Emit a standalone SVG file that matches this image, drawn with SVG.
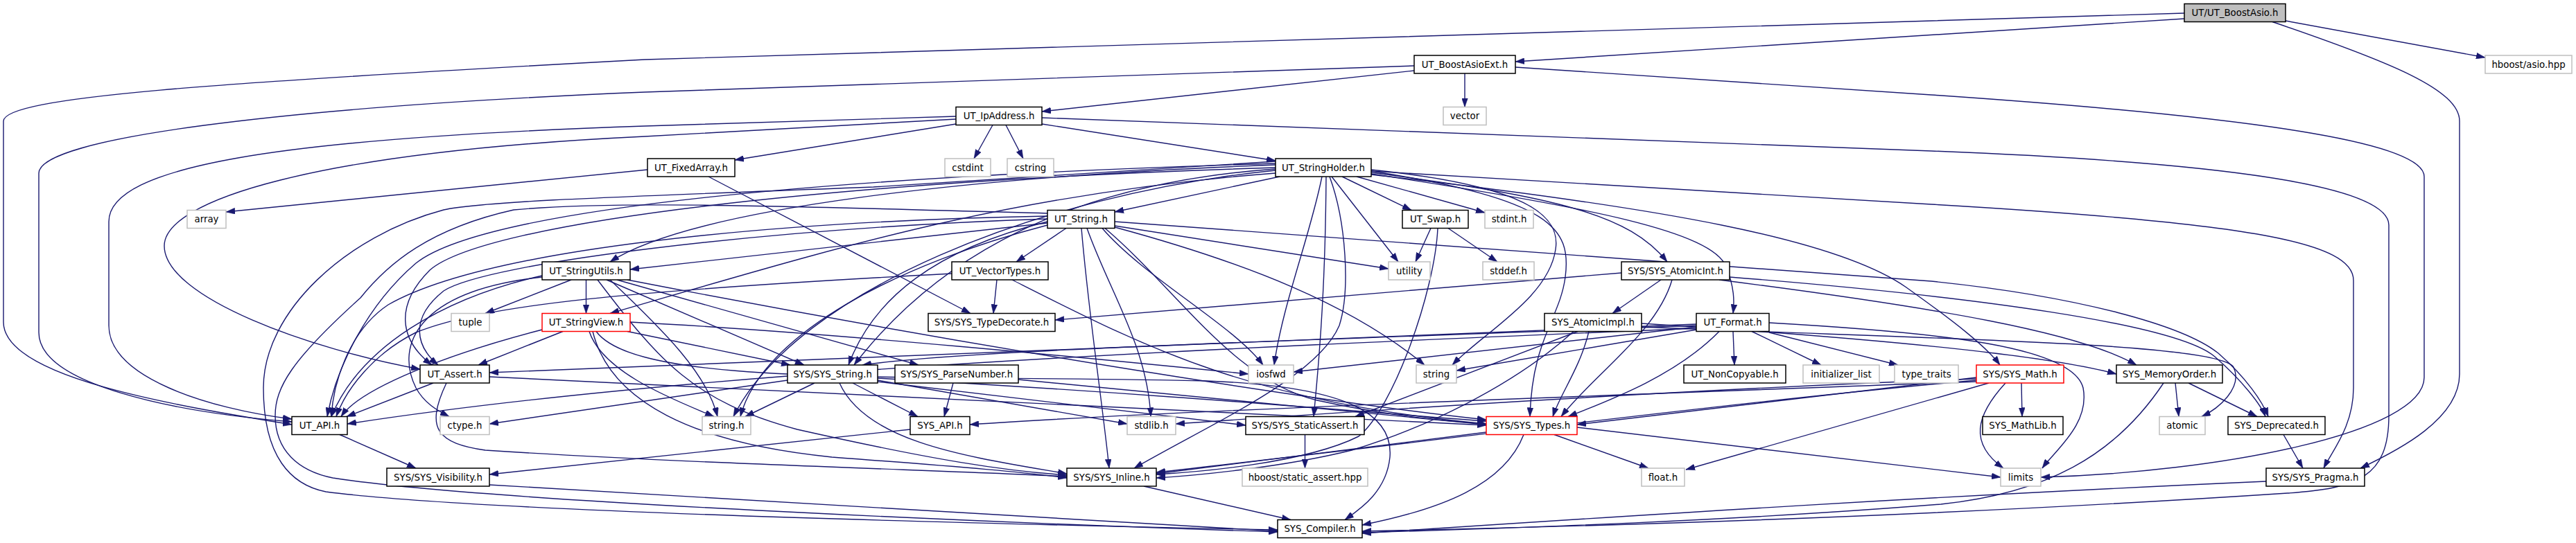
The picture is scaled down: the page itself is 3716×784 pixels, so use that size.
<svg xmlns="http://www.w3.org/2000/svg" width="3716" height="784" viewBox="0 0 3716 784">
<style>
.n rect{fill:#fff;stroke:#000;stroke-width:1.5}
.g rect{fill:#fff;stroke:#bfbfbf;stroke-width:1.5}
.r rect{fill:#fff;stroke:#ff0000;stroke-width:1.5}
.root rect{fill:#bfbfbf;stroke:#000;stroke-width:1.5}
text{font-family:"DejaVu Sans","Liberation Sans",sans-serif;font-size:13.33px;fill:#000;text-anchor:middle;dominant-baseline:central}
#edges path{fill:none;stroke:#191970;stroke-width:1.4;marker-end:url(#ah)}
</style>
<defs>
<marker id="ah" viewBox="0 0 13 9" refX="13" refY="4.5" markerWidth="13" markerHeight="9" markerUnits="userSpaceOnUse" orient="auto">
<path d="M0,0 L13,4.5 L0,9 z" fill="#191970" stroke="#191970" stroke-width="0.5"/>
</marker>
</defs>
<rect x="0" y="0" width="3716" height="784" fill="#fff"/>
<g id="edges">
<path d="M3151,27 L2186,89"/>
<path d="M3297,30 L3585,83"/>
<path d="M3151,19 L930,86 C300,120 5,140 5,175 L5,465 C5,545 250,585 421,613"/>
<path d="M3278,31.5 C3450,90 3548,130 3548,175 L3548,540 C3548,605 3460,650 3405,676"/>
<path d="M2113,106 L2113,154.5"/>
<path d="M2040,102 L1503,161"/>
<path d="M2040,95 L930,133 C400,155 56,200 56,250 L56,480 C56,555 250,595 421,609"/>
<path d="M2186,97 L2786,137 C3300,172 3497,210 3497,255 L3497,545 C3497,625 3200,682 2944,689"/>
<path d="M1379,179 L1060,231"/>
<path d="M1432,180.5 L1405,229"/>
<path d="M1451,180.5 L1476,229"/>
<path d="M1503,179 L1840,232"/>
<path d="M1503,170 L2786,218 C3300,238 3446,280 3446,325 L3446,600 C3446,690 3400,705 3300,712 C2800,745 2300,760 1965,767"/>
<path d="M1379,168 L930,182 C400,200 157,240 157,320 L157,470 C157,545 300,590 421,605"/>
<path d="M1379,172 L930,197 C450,220 237,290 237,355 C237,430 450,505 606,533"/>
<path d="M934,245 L326,306"/>
<path d="M1022,255 L1400,452.5"/>
<path d="M1846,255 L1608,306"/>
<path d="M1936,255 L2036,303.5"/>
<path d="M1957,255 L2142,307"/>
<path d="M1921,255 L2017,378"/>
<path d="M1907,255 C1890,340 1850,440 1838,527"/>
<path d="M1913,255 C1912,400 1905,500 1895,601.5"/>
<path d="M1918,255 C1942,320 1948,420 1932,470 C1900,545 1750,610 1636,676"/>
<path d="M1978,245 C2200,268 2252,310 2244,360 C2234,430 2140,480 2095,527"/>
<path d="M1978,247 C2240,288 2267,330 2258,400 C2250,460 2210,490 2207,601.5"/>
<path d="M1978,249 C2250,285 2350,310 2405,378"/>
<path d="M1978,251 C2300,300 2470,335 2490,385 C2502,415 2502,435 2500,452.5"/>
<path d="M1978,252 C2400,300 2650,345 2750,415 C2820,465 2865,500 2885,527"/>
<path d="M1978,247 L2786,295 C3250,322 3395,350 3395,405 L3395,560 C3395,615 3365,650 3352,676"/>
<path d="M1840,238 C1400,255 1000,300 880,378"/>
<path d="M1840,250 C1450,280 1200,360 880,452.5"/>
<path d="M1840,236 C1200,255 700,300 600,380 C530,440 485,530 472,601.5"/>
<path d="M1840,242 C1200,262 700,320 620,390 C570,440 575,490 623,527"/>
<path d="M1840,244 C1500,268 1330,400 1232,527"/>
<path d="M1840,246 C1500,280 1150,420 1058,601.5"/>
<path d="M1840,233 L1260,270 C900,284 700,290 640,303 C500,340 380,450 380,560 C380,660 420,700 470,710 C700,740 1500,758 1843,765"/>
<path d="M1511,322 L909,389"/>
<path d="M1538,329.5 L1466,378"/>
<path d="M1608,320 L2786,406 C3000,428 3150,470 3200,510 C3240,545 3264,580 3272,601.5"/>
<path d="M1608,326 L2003,388"/>
<path d="M1608,328 C1800,380 1950,440 2055,527"/>
<path d="M1590,329.5 C1650,400 1780,470 1822,527"/>
<path d="M1568,329.5 C1600,420 1655,500 1660,601.5"/>
<path d="M1560,329.5 C1570,450 1590,580 1600,676"/>
<path d="M1594,329.5 C1700,420 1780,550 1900,578 C2000,600 2080,608 2144,612"/>
<path d="M1511,308 C1200,300 900,288 741,303 C620,330 560,380 520,430 C420,520 397,560 397,600 C397,650 430,680 480,690 C700,725 1500,757 1843,768"/>
<path d="M1511,312 C1100,320 700,360 560,440 C500,480 480,560 478,601.5"/>
<path d="M1511,316 C1100,330 700,380 640,420 C590,460 600,500 632,527"/>
<path d="M1511,320 C1350,360 1260,430 1224,527"/>
<path d="M1511,325 C1300,380 1100,480 1068,601.5"/>
<path d="M2064,329.5 L2042,378"/>
<path d="M2089,329.5 L2160,378"/>
<path d="M2074,329.5 C2070,420 2010,590 1960,630 C1880,670 1720,682 1668,685"/>
<path d="M2396,404 L2326,452.5"/>
<path d="M2412,404 C2390,480 2300,540 2252,601.5"/>
<path d="M2339,394 L1522,462"/>
<path d="M2480,404 C2800,445 3000,480 3082,527"/>
<path d="M2495,400 C2850,428 3140,468 3195,515 C3235,550 3262,585 3268,601.5"/>
<path d="M2276,478.5 L1955,601.5"/>
<path d="M2270,478.5 C2180,560 2050,620 1950,650 C1850,675 1720,687 1668,690"/>
<path d="M2292,478.5 C2280,530 2250,570 2240,601.5"/>
<path d="M2368,467 C2700,488 2950,512 3053,540"/>
<path d="M2368,472 C2800,490 3200,495 3222,530 C3236,560 3200,590 3176,601.5"/>
<path d="M2500,478.5 L2502,527"/>
<path d="M2527,478.5 L2627,527"/>
<path d="M2552,480 L2738,527"/>
<path d="M2552,466 C2800,480 2990,500 3005,560 C3015,612 2965,650 2946,676"/>
<path d="M2480,478.5 C2420,540 2330,575 2262,601.5"/>
<path d="M2447,476 L2101,535"/>
<path d="M2447,472 L1866,537"/>
<path d="M2447,468 L706,538"/>
<path d="M2447,474 C1700,505 1000,535 501,612"/>
<path d="M2447,470 C1800,495 1400,505 1244,527"/>
<path d="M2916,553 L2917,601.5"/>
<path d="M2893,553 C2850,600 2840,640 2890,676"/>
<path d="M2869,553 L2432,678"/>
<path d="M2851,545 L2275,613"/>
<path d="M2851,549 C2500,580 2000,645 1668,682"/>
<path d="M2851,551 C2400,568 1700,592 1399,613"/>
<path d="M2851,547 C2400,563 1900,598 1696,612"/>
<path d="M3138,553 L3143,601.5"/>
<path d="M3157,553 L3256,601.5"/>
<path d="M3121,553 C3050,660 2950,712 2800,728 C2500,752 2200,762 1965,769"/>
<path d="M3294,627.5 L3322,676"/>
<path d="M3269,695 C2700,720 2200,755 1965,770"/>
<path d="M2144,624 L1668,684"/>
<path d="M2198,627.5 C2170,700 2080,735 1965,758"/>
<path d="M2242,627.5 L2378,676"/>
<path d="M2275,617 L2886,689"/>
<path d="M1882.5,627.5 L1882.5,676"/>
<path d="M1650,702 L1862,750.5"/>
<path d="M706,700 C1200,728 1600,755 1843,767"/>
<path d="M490,627.5 L600,676"/>
<path d="M1313,620 L706,685"/>
<path d="M1375,553 L1362,601.5"/>
<path d="M1469,548 L2144,613"/>
<path d="M625,553 L500,601.5"/>
<path d="M706,544 L2144,614"/>
<path d="M644,553 C612,620 632,640 700,650 C1000,670 1400,680 1539,688"/>
<path d="M1175,553 L1075,601.5"/>
<path d="M1230,553 L1324,601.5"/>
<path d="M1211,553 C1250,640 1400,660 1539,684"/>
<path d="M1266,546 C1700,570 2000,598 2144,608"/>
<path d="M1266,549 L1626,612"/>
<path d="M1136,549 L706,612"/>
<path d="M1266,551 L1797,614"/>
<path d="M824,404 L700,452.5"/>
<path d="M845.5,404 L845.5,452.5"/>
<path d="M875,404 L1160,527"/>
<path d="M890,404 L1325,527"/>
<path d="M905,404 C1400,500 1900,580 2144,606"/>
<path d="M862,404 C950,520 1000,580 1150,620 C1350,665 1450,680 1539,686"/>
<path d="M880,404 C960,480 1020,540 1035,601.5"/>
<path d="M782,398 C640,430 520,500 478,601.5"/>
<path d="M782,400 C600,420 570,500 600,560 C612,582 630,592 648,601.5"/>
<path d="M812,478.5 L690,527"/>
<path d="M782,476 C650,510 520,560 492,601.5"/>
<path d="M909,465 C1200,480 1600,520 1801,540"/>
<path d="M905,478.5 L1140,527"/>
<path d="M850,478.5 C870,540 980,580 1030,601.5"/>
<path d="M855,478.5 C880,580 1000,640 1200,660 C1400,675 1480,682 1539,690"/>
<path d="M860,478.5 C920,560 1300,540 1741,550 C1950,558 2010,600 2005,660 C2000,710 1962,735 1940,750.5"/>
<path d="M1438,404 L1433,452.5"/>
<path d="M1460,404 C1650,500 1800,580 2144,612"/>
<path d="M1373,395 C900,420 700,440 600,480 C540,510 500,560 485,601.5"/>
</g>
<g id="n_UT_BoostAsio" class="root"><rect x="3151" y="5.5" width="146" height="26"/><text x="3224" y="18.5">UT/UT_BoostAsio.h</text></g>
<g id="n_UT_BoostAsioExt" class="n"><rect x="2040" y="80" width="146" height="26"/><text x="2113" y="93">UT_BoostAsioExt.h</text></g>
<g id="n_hboost_asio" class="g"><rect x="3585" y="80" width="125" height="26"/><text x="3647.5" y="93">hboost/asio.hpp</text></g>
<g id="n_UT_IpAddress" class="n"><rect x="1379" y="154.5" width="124" height="26"/><text x="1441" y="167.5">UT_IpAddress.h</text></g>
<g id="n_vector" class="g"><rect x="2082" y="154.5" width="62" height="26"/><text x="2113" y="167.5">vector</text></g>
<g id="n_UT_FixedArray" class="n"><rect x="934" y="229" width="126" height="26"/><text x="997" y="242">UT_FixedArray.h</text></g>
<g id="n_cstdint" class="g"><rect x="1363" y="229" width="66" height="26"/><text x="1396" y="242">cstdint</text></g>
<g id="n_cstring" class="g"><rect x="1453" y="229" width="67" height="26"/><text x="1486.5" y="242">cstring</text></g>
<g id="n_UT_StringHolder" class="n"><rect x="1840" y="229" width="138" height="26"/><text x="1909" y="242">UT_StringHolder.h</text></g>
<g id="n_array" class="g"><rect x="270" y="303.5" width="56" height="26"/><text x="298" y="316.5">array</text></g>
<g id="n_UT_String" class="n"><rect x="1511" y="303.5" width="97" height="26"/><text x="1559.5" y="316.5">UT_String.h</text></g>
<g id="n_UT_Swap" class="n"><rect x="2023" y="303.5" width="95" height="26"/><text x="2070.5" y="316.5">UT_Swap.h</text></g>
<g id="n_stdint" class="g"><rect x="2142" y="303.5" width="70" height="26"/><text x="2177" y="316.5">stdint.h</text></g>
<g id="n_UT_StringUtils" class="n"><rect x="782" y="378" width="127" height="26"/><text x="845.5" y="391">UT_StringUtils.h</text></g>
<g id="n_UT_VectorTypes" class="n"><rect x="1373" y="378" width="139" height="26"/><text x="1442.5" y="391">UT_VectorTypes.h</text></g>
<g id="n_utility" class="g"><rect x="2003" y="378" width="60" height="26"/><text x="2033" y="391">utility</text></g>
<g id="n_stddef" class="g"><rect x="2139" y="378" width="74" height="26"/><text x="2176" y="391">stddef.h</text></g>
<g id="n_SYS_AtomicInt" class="n"><rect x="2339" y="378" width="156" height="26"/><text x="2417" y="391">SYS/SYS_AtomicInt.h</text></g>
<g id="n_tuple" class="g"><rect x="651" y="452.5" width="55" height="26"/><text x="678.5" y="465.5">tuple</text></g>
<g id="n_UT_StringView" class="r"><rect x="782" y="452.5" width="127" height="26"/><text x="845.5" y="465.5">UT_StringView.h</text></g>
<g id="n_SYS_TypeDecorate" class="n"><rect x="1339" y="452.5" width="183" height="26"/><text x="1430.5" y="465.5">SYS/SYS_TypeDecorate.h</text></g>
<g id="n_SYS_AtomicImpl" class="n"><rect x="2228" y="452.5" width="140" height="26"/><text x="2298" y="465.5">SYS_AtomicImpl.h</text></g>
<g id="n_UT_Format" class="n"><rect x="2447" y="452.5" width="105" height="26"/><text x="2499.5" y="465.5">UT_Format.h</text></g>
<g id="n_UT_Assert" class="n"><rect x="606" y="527" width="100" height="26"/><text x="656" y="540">UT_Assert.h</text></g>
<g id="n_SYS_String" class="n"><rect x="1136" y="527" width="130" height="26"/><text x="1201" y="540">SYS/SYS_String.h</text></g>
<g id="n_SYS_ParseNumber" class="n"><rect x="1291" y="527" width="178" height="26"/><text x="1380" y="540">SYS/SYS_ParseNumber.h</text></g>
<g id="n_iosfwd" class="g"><rect x="1801" y="527" width="65" height="26"/><text x="1833.5" y="540">iosfwd</text></g>
<g id="n_string" class="g"><rect x="2043" y="527" width="58" height="26"/><text x="2072" y="540">string</text></g>
<g id="n_UT_NonCopyable" class="n"><rect x="2429" y="527" width="147" height="26"/><text x="2502.5" y="540">UT_NonCopyable.h</text></g>
<g id="n_initializer_list" class="g"><rect x="2601" y="527" width="110" height="26"/><text x="2656" y="540">initializer_list</text></g>
<g id="n_type_traits" class="g"><rect x="2733" y="527" width="92" height="26"/><text x="2779" y="540">type_traits</text></g>
<g id="n_SYS_Math" class="r"><rect x="2851" y="527" width="126" height="26"/><text x="2914" y="540">SYS/SYS_Math.h</text></g>
<g id="n_SYS_MemoryOrder" class="n"><rect x="3053" y="527" width="153" height="26"/><text x="3129.5" y="540">SYS_MemoryOrder.h</text></g>
<g id="n_UT_API" class="n"><rect x="421" y="601.5" width="80" height="26"/><text x="461" y="614.5">UT_API.h</text></g>
<g id="n_ctype" class="g"><rect x="635" y="601.5" width="71" height="26"/><text x="670.5" y="614.5">ctype.h</text></g>
<g id="n_string_h" class="g"><rect x="1013" y="601.5" width="70" height="26"/><text x="1048" y="614.5">string.h</text></g>
<g id="n_SYS_API" class="n"><rect x="1313" y="601.5" width="86" height="26"/><text x="1356" y="614.5">SYS_API.h</text></g>
<g id="n_stdlib" class="g"><rect x="1626" y="601.5" width="70" height="26"/><text x="1661" y="614.5">stdlib.h</text></g>
<g id="n_SYS_StaticAssert" class="n"><rect x="1797" y="601.5" width="171" height="26"/><text x="1882.5" y="614.5">SYS/SYS_StaticAssert.h</text></g>
<g id="n_SYS_Types" class="r"><rect x="2144" y="601.5" width="131" height="26"/><text x="2209.5" y="614.5">SYS/SYS_Types.h</text></g>
<g id="n_SYS_MathLib" class="n"><rect x="2860" y="601.5" width="116" height="26"/><text x="2918" y="614.5">SYS_MathLib.h</text></g>
<g id="n_atomic" class="g"><rect x="3115" y="601.5" width="66" height="26"/><text x="3148" y="614.5">atomic</text></g>
<g id="n_SYS_Deprecated" class="n"><rect x="3214" y="601.5" width="140" height="26"/><text x="3284" y="614.5">SYS_Deprecated.h</text></g>
<g id="n_SYS_Visibility" class="n"><rect x="558" y="676" width="148" height="26"/><text x="632" y="689">SYS/SYS_Visibility.h</text></g>
<g id="n_SYS_Inline" class="n"><rect x="1539" y="676" width="129" height="26"/><text x="1603.5" y="689">SYS/SYS_Inline.h</text></g>
<g id="n_static_assert" class="g"><rect x="1792" y="676" width="181" height="26"/><text x="1882.5" y="689">hboost/static_assert.hpp</text></g>
<g id="n_float" class="g"><rect x="2368" y="676" width="62" height="26"/><text x="2399" y="689">float.h</text></g>
<g id="n_limits" class="g"><rect x="2886" y="676" width="58" height="26"/><text x="2915" y="689">limits</text></g>
<g id="n_SYS_Pragma" class="n"><rect x="3269" y="676" width="142" height="26"/><text x="3340" y="689">SYS/SYS_Pragma.h</text></g>
<g id="n_SYS_Compiler" class="n"><rect x="1843" y="750.5" width="122" height="26"/><text x="1904" y="763.5">SYS_Compiler.h</text></g>
</svg>
